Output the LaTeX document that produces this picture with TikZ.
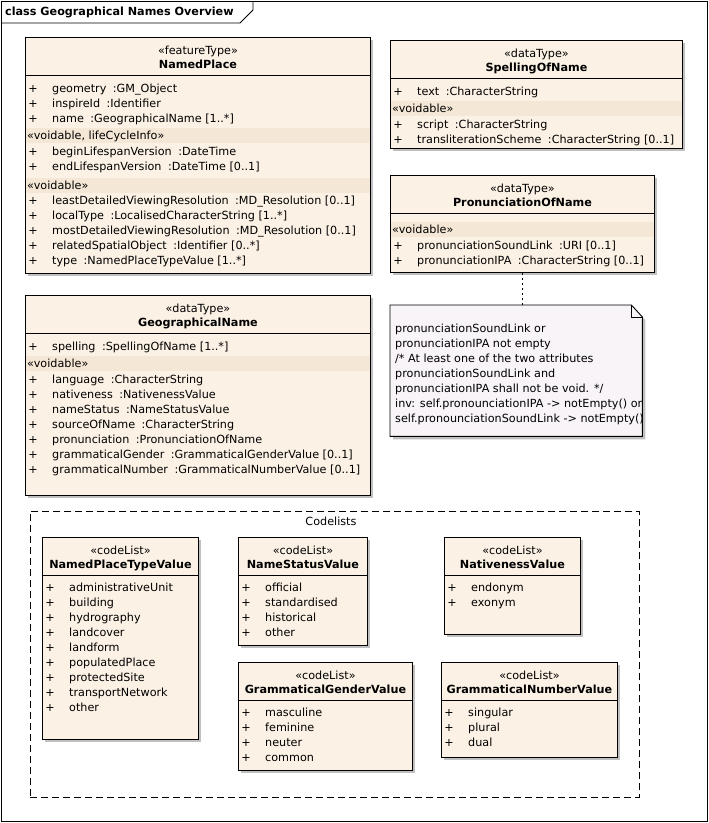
\documentclass[tikz,border=0pt]{standalone}
\usepackage{fontspec}
\setmainfont{DejaVu Sans}
\usetikzlibrary{positioning, shadows, calc}

\definecolor{classfill}{RGB}{251,241,228}
\definecolor{bandfill}{RGB}{245,231,213}
\definecolor{notefill}{RGB}{248,244,248}
\definecolor{shadowgrey}{RGB}{192,192,192}

\newcommand{\umlfont}{\fontsize{11.2pt}{15pt}\selectfont}

\begin{document}
\begin{tikzpicture}[
    x=1pt, y=-1pt,
    umlbox/.style={draw, line width=0.9pt, fill=classfill, rectangle, anchor=north west, inner sep=0pt,
        drop shadow={shadow xshift=3pt, shadow yshift=-3pt, opacity=1, fill=shadowgrey}}, % class boxes
    txt/.style={inner sep=0pt, font=\umlfont, text height=8.5pt, text depth=1pt},
    attr/.style={txt, anchor=west},
    classname/.style={txt, font=\umlfont\bfseries},
    notelink/.style={line width=0.8pt, dash pattern=on 2pt off 3pt}
]
\useasboundingbox (0,0) rectangle (709,823);

% helpers: header, a stereotype band, a run of attribute rows
\def\typesep{\hspace{6.5pt}:}
\def\umlhead#1#2#3{%
    \node[txt] at ([yshift=-13.5pt]#1.north) {«#2»};
    \node[classname] at ([yshift=-28pt]#1.north) {#3};
    \draw[line width=0.9pt] ([yshift=-38pt]#1.north west) -- ([yshift=-38pt]#1.north east);}
\def\umlband#1#2#3{%
    \fill[bandfill] ([shift={(1,#2)}]#1.north west) rectangle ([shift={(-1,#2+15)}]#1.north east);
    \node[attr] at ([shift={(2,#2+8)}]#1.north west) {#3};}
\def\umlrows#1#2#3{%
    \foreach \entry [count=\k from 0] in {#3} {
        \node[txt] at ([shift={(8,#2+15*\k)}]#1.north west) {+};
        \node[attr] at ([shift={(27,#2+15*\k)}]#1.north west) {\entry};
    }}

% Diagram frame and title tab
\node[draw, line width=0.9pt, minimum width=706pt, minimum height=820pt, anchor=north west, inner sep=0pt] (frame) at (1,1) {};
\draw[line width=0.9pt] (1,23) -- (240,23) -- (253,10) -- (253,1);
\node[attr, font=\umlfont\bfseries] (title) at (5,12) {class Geographical Names Overview};

% NamedPlace
\node[umlbox, minimum width=345pt, minimum height=236pt] (np) at (25,37) {};
\umlhead{np}{featureType}{NamedPlace}
\umlrows{np}{52}{geometry\typesep GM\_Object, inspireId\typesep Identifier, name\typesep GeographicalName [1..*]}
\umlband{np}{91}{«voidable, lifeCycleInfo»}
\umlrows{np}{115}{beginLifespanVersion\typesep DateTime, endLifespanVersion\typesep DateTime [0..1]}
\umlband{np}{141}{«voidable»}
\umlrows{np}{164}{leastDetailedViewingResolution\typesep MD\_Resolution [0..1], localType\typesep LocalisedCharacterString [1..*], mostDetailedViewingResolution\typesep MD\_Resolution [0..1], relatedSpatialObject\typesep Identifier [0..*], type\typesep NamedPlaceTypeValue [1..*]}

% SpellingOfName
\node[umlbox, minimum width=292pt, minimum height=108pt] (spell) at (390,40) {};
\umlhead{spell}{dataType}{SpellingOfName}
\umlrows{spell}{52}{text\typesep CharacterString}
\umlband{spell}{61}{«voidable»}
\umlrows{spell}{85}{script\typesep CharacterString, transliterationScheme\typesep CharacterString [0..1]}

% PronunciationOfName
\node[umlbox, minimum width=264pt, minimum height=97pt] (pron) at (390,175) {};
\umlhead{pron}{dataType}{PronunciationOfName}
\umlband{pron}{47}{«voidable»}
\umlrows{pron}{71}{pronunciationSoundLink\typesep URI [0..1], pronunciationIPA\typesep CharacterString [0..1]}

% constraint note
\node[minimum width=252pt, minimum height=131pt, anchor=north west, inner sep=0pt] (note) at (390,305) {};
\coordinate (fold) at ($(note.north east)+(-11,0)$);
\draw[line width=0.9pt, fill=notefill, drop shadow={shadow xshift=3pt, shadow yshift=-3pt, opacity=1, fill=shadowgrey}]
    (note.north west) -- (fold) -- ($(note.north east)+(0,12)$) -- (note.south east) -- (note.south west) -- cycle;
\draw[line width=0.9pt] (fold) -- ++(0,12) -- ($(note.north east)+(0,12)$);
\node[txt, anchor=north west, align=left, text height=, text depth=] (notetext) at ($(note.north west)+(5,19)$) {%
    pronunciationSoundLink or\\
    pronunciationIPA not empty\\
    /* At least one of the two attributes\\
    pronunciationSoundLink and\\
    pronunciationIPA shall not be void. */\\
    inv: self.pronounciationIPA -> notEmpty() or\\
    self.pronounciationSoundLink -> notEmpty()};
\draw[notelink] (pron.south) -- (pron.south |- note.north);

% GeographicalName
\node[umlbox, minimum width=345pt, minimum height=200pt] (gn) at (25,295) {};
\umlhead{gn}{dataType}{GeographicalName}
\umlrows{gn}{52}{spelling\typesep SpellingOfName [1..*]}
\umlband{gn}{61}{«voidable»}
\umlrows{gn}{85}{language\typesep CharacterString, nativeness\typesep NativenessValue, nameStatus\typesep NameStatusValue, sourceOfName\typesep CharacterString, pronunciation\typesep PronunciationOfName, grammaticalGender\typesep GrammaticalGenderValue [0..1], grammaticalNumber\typesep GrammaticalNumberValue [0..1]}

% Codelists package
\node[draw, line width=0.9pt, dash pattern=on 7pt off 4pt, minimum width=609pt, minimum height=286pt, anchor=north west, inner sep=0pt] (codelists) at (30,511) {};
\node[txt] at ([shift={(-4,11)}]codelists.north) {Codelists};

\node[umlbox, minimum width=156pt, minimum height=202pt] (nptv) at (42,537) {};
\umlhead{nptv}{codeList}{NamedPlaceTypeValue}
\umlrows{nptv}{51}{administrativeUnit, building, hydrography, landcover, landform, populatedPlace, protectedSite, transportNetwork, other}

\node[umlbox, minimum width=129pt, minimum height=108pt] (nsv) at (238,537) {};
\umlhead{nsv}{codeList}{NameStatusValue}
\umlrows{nsv}{51}{official, standardised, historical, other}

\node[umlbox, minimum width=136pt, minimum height=97pt] (nv) at (444,537) {};
\umlhead{nv}{codeList}{NativenessValue}
\umlrows{nv}{51}{endonym, exonym}

\node[umlbox, minimum width=174pt, minimum height=108pt] (ggv) at (238,662) {};
\umlhead{ggv}{codeList}{GrammaticalGenderValue}
\umlrows{ggv}{51}{masculine, feminine, neuter, common}

\node[umlbox, minimum width=176pt, minimum height=95pt] (gnv) at (441,662) {};
\umlhead{gnv}{codeList}{GrammaticalNumberValue}
\umlrows{gnv}{51}{singular, plural, dual}

\end{tikzpicture}
\end{document}
